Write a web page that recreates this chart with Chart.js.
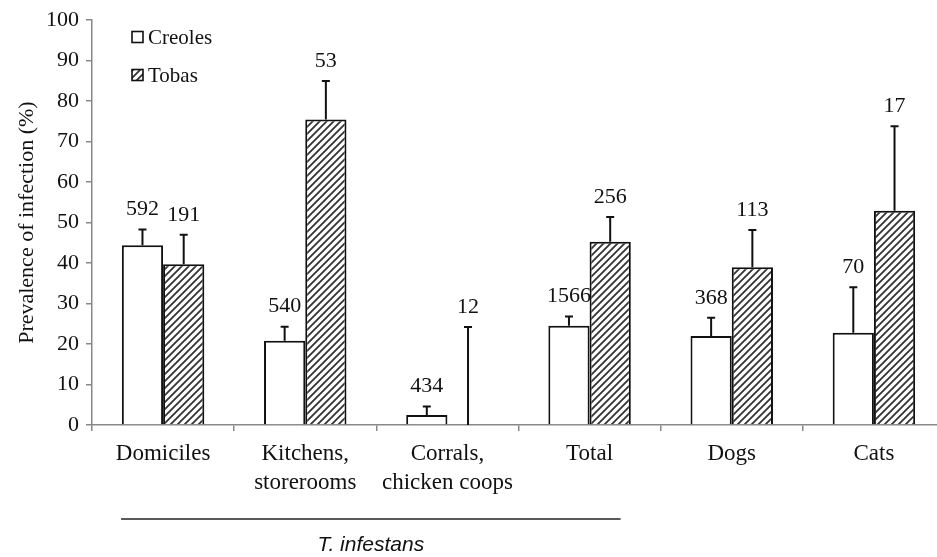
<!DOCTYPE html>
<html lang="en">
<head>
  <meta charset="UTF-8">
  <title>Prevalence of infection</title>
  <style>
    html, body {
      margin: 0;
      padding: 0;
      background: #fff;
      overflow: hidden;
    }
    #wrap {
      position: absolute;
      left: 0;
      top: 0;
      width: 945px;
      height: 557px;
    }
  </style>
</head>
<body>
  <div id="wrap"><canvas id="chart"></canvas></div>

  <script src="https://cdn.jsdelivr.net/npm/chart.js"></script>
  <script>
    // categories on the x axis
    const categories = ['Domiciles', ['Kitchens,', 'storerooms'], ['Corrals,', 'chicken coops'], 'Total', 'Dogs', 'Cats'];

    // prevalence (%)
    const creoles = [44.4, 20.8, 2.5, 24.5, 22.0, 22.8];
    const tobas = [39.7, 75.5, 0, 45.3, 39.0, 52.9];

    // upper end of the error bars
    const creolesUpper = [48.3, 24.3, 4.6, 26.8, 26.5, 34.0];
    const tobasUpper = [47.0, 85.0, 24.2, 51.4, 48.2, 73.8];

    // sample sizes printed above bars
    const creolesN = [592, 540, 434, 1566, 368, 70];
    const tobasN = [191, 53, 12, 256, 113, 17];

    const yTicks = [0, 10, 20, 30, 40, 50, 60, 70, 80, 90, 100];

    const serif = '"Liberation Serif", "Times New Roman", serif';
    const ink = '#111';

    // hatch pattern for Tobas
    function makeHatch() {
      const c = document.createElement('canvas');
      c.width = 7;
      c.height = 7;
      const g = c.getContext('2d');
      g.fillStyle = '#fff';
      g.fillRect(0, 0, 7, 7);
      g.strokeStyle = '#333';
      g.lineWidth = 1.8;
      g.beginPath();
      g.moveTo(-1, 8); g.lineTo(8, -1);
      g.moveTo(-1, 1); g.lineTo(1, -1);
      g.moveTo(6, 8); g.lineTo(8, 6);
      g.stroke();
      return g.createPattern(c, 'repeat');
    }
    const hatch = makeHatch();

    const uppers = [creolesUpper, tobasUpper];
    const counts = [creolesN, tobasN];

    // error bars, n labels, legend and the T. infestans bracket
    const extras = {
      id: 'extras',
      afterDatasetsDraw(chart) {
        const ctx = chart.ctx;
        const y = chart.scales.y;
        const x = chart.scales.x;
        ctx.save();
        ctx.strokeStyle = ink;
        ctx.lineWidth = 2;
        chart.data.datasets.forEach((ds, di) => {
          const meta = chart.getDatasetMeta(di);
          meta.data.forEach((bar, i) => {
            const top = y.getPixelForValue(ds.data[i]);
            const up = y.getPixelForValue(uppers[di][i]);
            ctx.beginPath();
            ctx.moveTo(bar.x, top);
            ctx.lineTo(bar.x, up);
            ctx.moveTo(bar.x - 4, up);
            ctx.lineTo(bar.x + 4, up);
            ctx.stroke();

            ctx.fillStyle = ink;
            ctx.font = '22px ' + serif;
            ctx.textAlign = 'center';
            ctx.textBaseline = 'middle';
            ctx.fillText(String(counts[di][i]), bar.x, up - 20);
          });
        });

        // legend
        const lx = 132, ly = [37, 75];
        chart.data.datasets.forEach((ds, di) => {
          ctx.fillStyle = ds.backgroundColor;
          ctx.fillRect(lx, ly[di] - 5.5, 11, 11);
          ctx.lineWidth = 1.6;
          ctx.strokeRect(lx, ly[di] - 5.5, 11, 11);
          ctx.fillStyle = ink;
          ctx.font = '21px ' + serif;
          ctx.textAlign = 'left';
          ctx.textBaseline = 'middle';
          ctx.fillText(ds.label, lx + 16, ly[di] + 1);
        });

        // bracket under the first four groups
        const x0 = x.getPixelForValue(0) - 42;
        const x1 = x.getPixelForValue(3) + 31;
        ctx.strokeStyle = '#222';
        ctx.lineWidth = 1.5;
        ctx.beginPath();
        ctx.moveTo(x0, 519);
        ctx.lineTo(x1, 519);
        ctx.stroke();
        ctx.fillStyle = ink;
        ctx.font = 'italic 21px "Liberation Sans", Arial, sans-serif';
        ctx.textAlign = 'center';
        ctx.textBaseline = 'middle';
        ctx.fillText('T. infestans', (x0 + x1) / 2, 545);
        ctx.restore();
      }
    };

    new Chart(document.getElementById('chart'), {
      type: 'bar',
      data: {
        labels: categories,
        datasets: [
          {
            label: 'Creoles',
            data: creoles,
            backgroundColor: '#fff',
            borderColor: ink,
            borderWidth: 2,
            borderSkipped: 'bottom'
          },
          {
            label: 'Tobas',
            data: tobas,
            backgroundColor: hatch,
            borderColor: ink,
            borderWidth: 2,
            borderSkipped: 'bottom'
          }
        ]
      },
      options: {
        responsive: true,
        maintainAspectRatio: false,
        animation: false,
        devicePixelRatio: 1,
        layout: { padding: { top: 17, left: 0, right: 0, bottom: 0 } },
        categoryPercentage: 0.58,
        barPercentage: 1.0,
        plugins: {
          legend: { display: false },
          tooltip: { enabled: false }
        },
        scales: {
          x: {
            afterFit(scale) { scale.height = 132; },
            border: { color: '#888', width: 1.5 },
            grid: { drawOnChartArea: false, offset: true, tickLength: 6, color: '#888', lineWidth: 1.5 },
            ticks: {
              color: ink,
              font: { family: serif, size: 23, lineHeight: 1.26 },
              padding: 8,
              maxRotation: 0,
              autoSkip: false
            }
          },
          y: {
            min: 0,
            max: 100,
            afterFit(scale) { scale.width = 92; },
            afterBuildTicks(scale) { scale.ticks = yTicks.map(v => ({ value: v })); },
            border: { color: '#888', width: 1.5 },
            grid: { drawOnChartArea: false, tickLength: 6, color: '#888', lineWidth: 1.5 },
            ticks: {
              color: ink,
              font: { family: serif, size: 22 },
              padding: 7
            },
            title: {
              display: true,
              text: 'Prevalence of infection (%)',
              color: ink,
              font: { family: serif, size: 22 },
              padding: { top: 14, bottom: 0 }
            }
          }
        }
      },
      plugins: [extras]
    });
  </script>
</body>
</html>
